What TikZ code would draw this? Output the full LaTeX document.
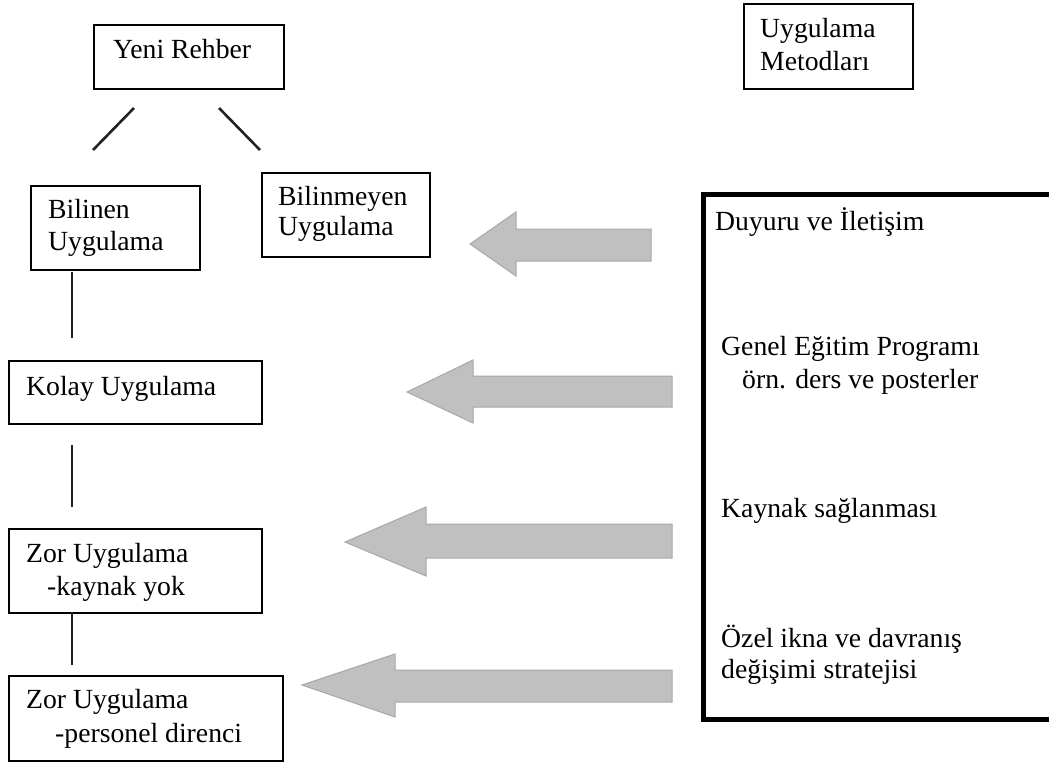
\documentclass[tikz,border=0pt]{standalone}
\usepackage{fontspec}
\setmainfont{Liberation Serif}
\definecolor{arrowfill}{HTML}{C0C0C0}
\definecolor{arrowline}{HTML}{A8A8A8}
\definecolor{linecol}{HTML}{222222}
\tikzset{
  box/.style={draw=black, line width=1.6pt, rectangle, inner sep=0pt, anchor=north west},
  txt/.style={anchor=base west, inner sep=0pt, font=\fontsize{27.7}{32}\selectfont},
  link/.style={draw=linecol, line width=2.6pt},
  blockarrow/.style={fill=arrowfill, draw=arrowline, line width=1pt, line join=miter},
}
\begin{document}
\begin{tikzpicture}[x=1pt,y=-1pt]
\useasboundingbox (0,0) rectangle (1049,761);
\clip (0,0) rectangle (1049,761);

% boxes
\node[box, minimum width=190pt, minimum height=64pt] (yeni) at (93,24) {};
\node[box, minimum width=169pt, minimum height=85pt] (metod) at (743,3) {};
\node[box, minimum width=169pt, minimum height=84pt] (bilinen) at (30,185) {};
\node[box, minimum width=168pt, minimum height=84pt] (bilinmeyen) at (261,172) {};
\node[box, minimum width=253pt, minimum height=63pt] (kolay) at (8,360) {};
\node[box, minimum width=253pt, minimum height=84pt] (zor1) at (8,528) {};
\node[box, minimum width=274pt, minimum height=85pt] (zor2) at (8,675) {};
\node[box, line width=5pt, minimum width=400pt, minimum height=525pt] (methods) at (701,192) {};

% texts
\node[txt] (t1) at (113,58) {Yeni Rehber};
\node[txt] (t2a) at (760,37) {Uygulama};
\node[txt] (t2b) at (760,70) {Metodları};
\node[txt] (t3a) at (48,218) {Bilinen};
\node[txt] (t3b) at (48,250) {Uygulama};
\node[txt] (t4a) at (278,205) {Bilinmeyen};
\node[txt] (t4b) at (278,235) {Uygulama};
\node[txt] (t5) at (26,395) {Kolay Uygulama};
\node[txt] (t6a) at (26,562) {Zor Uygulama};
\node[txt] (t6b) at (47,595) {-kaynak yok};
\node[txt] (t7a) at (26,708) {Zor Uygulama};
\node[txt] (t7b) at (55,742) {-personel direnci};
\node[txt] (m1) at (715,230) {Duyuru ve İletişim};
\node[txt] (m2a) at (721,355) {Genel Eğitim Programı};
\node[txt] (m2b) at (742,388) {örn. ders ve posterler};
\node[txt] (m3) at (721,517) {Kaynak sağlanması};
\node[txt] (m4a) at (721,647) {Özel ikna ve davranış};
\node[txt] (m4b) at (721,678) {değişimi stratejisi};

% connector coordinates
\coordinate (l1a) at (134,108); \coordinate (l1b) at (93,150);
\coordinate (l2a) at (219,108); \coordinate (l2b) at (260,150);
\coordinate (l3a) at (72,272);  \coordinate (l3b) at (72,338);
\coordinate (l4a) at (72,445);  \coordinate (l4b) at (72,507);
\coordinate (l5a) at (72,612);  \coordinate (l5b) at (72,665);
\draw[link] (l1a) -- (l1b);
\draw[link] (l2a) -- (l2b);
\draw[link] (l3a) -- (l3b);
\draw[link] (l4a) -- (l4b);
\draw[link] (l5a) -- (l5b);

% block arrows
\draw[blockarrow] (651,229) -- (516,229) -- (516,212) -- (470,244) -- (516,276) -- (516,261) -- (651,261) -- cycle;
\draw[blockarrow] (672,376) -- (473,376) -- (473,360) -- (407,392) -- (473,423) -- (473,407) -- (672,407) -- cycle;
\draw[blockarrow] (672,524) -- (426,524) -- (426,507) -- (345,542) -- (426,576) -- (426,558) -- (672,558) -- cycle;
\draw[blockarrow] (672,670) -- (395,670) -- (395,654) -- (302,685) -- (395,717) -- (395,702) -- (672,702) -- cycle;
\end{tikzpicture}
\end{document}
